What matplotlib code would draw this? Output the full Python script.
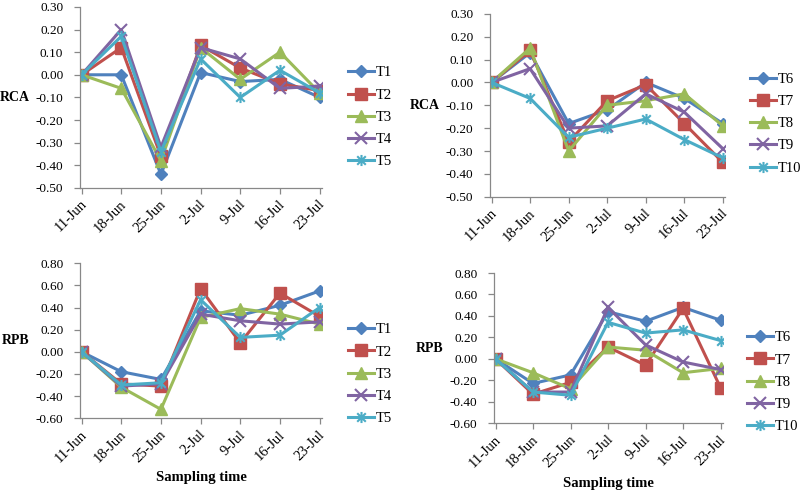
import matplotlib
matplotlib.use("Agg")
import matplotlib.pyplot as plt
import matplotlib.transforms as mtransforms
import numpy as np
from matplotlib.path import Path

plt.rcParams['font.family'] = ['Liberation Serif', 'DejaVu Serif']

dates = ["11-Jun", "18-Jun", "25-Jun", "2-Jul", "9-Jul", "16-Jul", "23-Jul"]

# RCA, treatments T1-T5
rca_T1 = [0.00, 0.00, -0.44, 0.01, -0.03, -0.02, -0.10]
rca_T2 = [0.00, 0.12, -0.36, 0.13, 0.03, -0.04, -0.07]
rca_T3 = [0.00, -0.06, -0.38, 0.12, -0.02, 0.10, -0.08]
rca_T4 = [0.00, 0.20, -0.32, 0.12, 0.07, -0.06, -0.05]
rca_T5 = [0.00, 0.17, -0.34, 0.07, -0.10, 0.02, -0.08]

# RCA, treatments T6-T10
rca_T6 = [0.00, 0.13, -0.18, -0.12, 0.00, -0.07, -0.18]
rca_T7 = [0.00, 0.14, -0.26, -0.08, -0.01, -0.18, -0.35]
rca_T8 = [0.00, 0.15, -0.30, -0.10, -0.08, -0.05, -0.19]
rca_T9 = [0.00, 0.06, -0.20, -0.19, -0.05, -0.13, -0.29]
rca_T10 = [0.00, -0.07, -0.24, -0.20, -0.16, -0.25, -0.33]

# RPB, treatments T1-T5
rpb_T1 = [0.00, -0.18, -0.25, 0.37, 0.33, 0.42, 0.55]
rpb_T2 = [0.00, -0.29, -0.31, 0.57, 0.08, 0.53, 0.32]
rpb_T3 = [0.00, -0.32, -0.52, 0.31, 0.39, 0.34, 0.25]
rpb_T4 = [0.00, -0.31, -0.29, 0.34, 0.28, 0.25, 0.27]
rpb_T5 = [0.00, -0.30, -0.28, 0.47, 0.13, 0.15, 0.40]

# RPB, treatments T6-T10
rpb_T6 = [0.00, -0.23, -0.15, 0.44, 0.35, 0.48, 0.36]
rpb_T7 = [0.00, -0.33, -0.22, 0.11, -0.06, 0.47, -0.27]
rpb_T8 = [0.00, -0.13, -0.28, 0.11, 0.08, -0.13, -0.09]
rpb_T9 = [0.00, -0.31, -0.31, 0.48, 0.13, -0.03, -0.10]
rpb_T10 = [0.00, -0.31, -0.34, 0.34, 0.24, 0.27, 0.17]

colors = ["#4F81BD", "#C0504D", "#9BBB59", "#8064A2", "#4BACC6"]

# asterisk marker (x plus vertical line)
star_path = Path(
    [(-1, -1), (1, 1), (-1, 1), (1, -1), (0, -1.3), (0, 1.3)],
    [Path.MOVETO, Path.LINETO, Path.MOVETO, Path.LINETO, Path.MOVETO, Path.LINETO],
)
markers = ["D", "s", "^", "x", star_path]
msizes = [6.5, 8, 8, 8, 8]

fig = plt.figure(figsize=(8.0, 4.92), dpi=100)

panels = [
    dict(rect=[0.100, 0.618, 0.3025, 0.368], series=[rca_T1, rca_T2, rca_T3, rca_T4, rca_T5],
         labels=["T1", "T2", "T3", "T4", "T5"], ylim=(-0.5, 0.3), step=0.1, ylabel="RCA",
         xlab=False, leg=(1.083, 0.39), ylc=-0.207, xlc=None),
    dict(rect=[0.6125, 0.600, 0.294, 0.372], series=[rca_T6, rca_T7, rca_T8, rca_T9, rca_T10],
         labels=["T6", "T7", "T8", "T9", "T10"], ylim=(-0.5, 0.3), step=0.1, ylabel="RCA",
         xlab=False, leg=(1.081, 0.40), ylc=-0.213, xlc=None),
    dict(rect=[0.100, 0.150, 0.3025, 0.315], series=[rpb_T1, rpb_T2, rpb_T3, rpb_T4, rpb_T5],
         labels=["T1", "T2", "T3", "T4", "T5"], ylim=(-0.6, 0.8), step=0.2, ylabel="RPB",
         xlab=True, leg=(1.083, 0.284), ylc=-0.207, xlc=-0.38),
    dict(rect=[0.6175, 0.140, 0.286, 0.305], series=[rpb_T6, rpb_T7, rpb_T8, rpb_T9, rpb_T10],
         labels=["T6", "T7", "T8", "T9", "T10"], ylim=(-0.6, 0.8), step=0.2, ylabel="RPB",
         xlab=True, leg=(1.079, 0.273), ylc=-0.223, xlc=-0.40),
]

x = np.arange(len(dates))
offset = mtransforms.ScaledTranslation(3 / 100, -6 / 100, fig.dpi_scale_trans)
for p in panels:
    ax = fig.add_axes(p["rect"])
    handles = []
    for s, lab, c, m, ms in zip(p["series"], p["labels"], colors, markers, msizes):
        mew = 1.5 if (m == "x" or isinstance(m, Path)) else 1.0
        ln, = ax.plot(x, s, color=c, lw=2.2, marker=m, markersize=ms,
                      markeredgecolor=c, markerfacecolor=c, markeredgewidth=mew, label=lab,
                      solid_joinstyle="round")
        handles.append(ln)
    ax.set_xlim(-0.04, 6.06)
    lo, hi = p["ylim"]
    ax.set_ylim(lo, hi)
    ticks = [round(lo + i * p["step"], 2) + 0.0 for i in range(int(round((hi - lo) / p["step"])) + 1)]
    ax.set_yticks(ticks)
    ax.set_yticklabels([f"{t + 0.0:.2f}".replace("-0.00", "0.00") for t in ticks])
    ax.set_xticks(x)
    ax.set_xticklabels(dates, rotation=45, ha="right", va="center", rotation_mode="anchor")
    for sp in ["top", "right"]:
        ax.spines[sp].set_visible(False)
    for sp in ["left", "bottom"]:
        ax.spines[sp].set_color("#888888")
        ax.spines[sp].set_linewidth(0.9)
    ax.tick_params(axis="both", colors="#888888", labelcolor="black",
                   length=4, width=0.9, direction="out")
    ax.tick_params(axis="y", pad=8, labelsize=9.5)
    ax.tick_params(axis="x", pad=2, labelsize=10.5)
    for lbl in ax.get_xticklabels():
        lbl.set_transform(lbl.get_transform() + offset)
    ax.set_ylabel(p["ylabel"], fontweight="bold", fontsize=10, rotation=0,
                  ha="right", va="center")
    ax.yaxis.set_label_coords(p["ylc"], 0.5)
    if p["xlab"]:
        ax.set_xlabel("Sampling time", fontweight="bold", fontsize=10.5, va="center")
        ax.xaxis.set_label_coords(0.5, p["xlc"])
    ax.legend(handles=handles, loc="center left", bbox_to_anchor=p["leg"], frameon=False,
              fontsize=10.5, handlelength=1.8, handletextpad=0.1, labelspacing=0.62,
              borderaxespad=0)

fig.savefig("out.png", dpi=100)
